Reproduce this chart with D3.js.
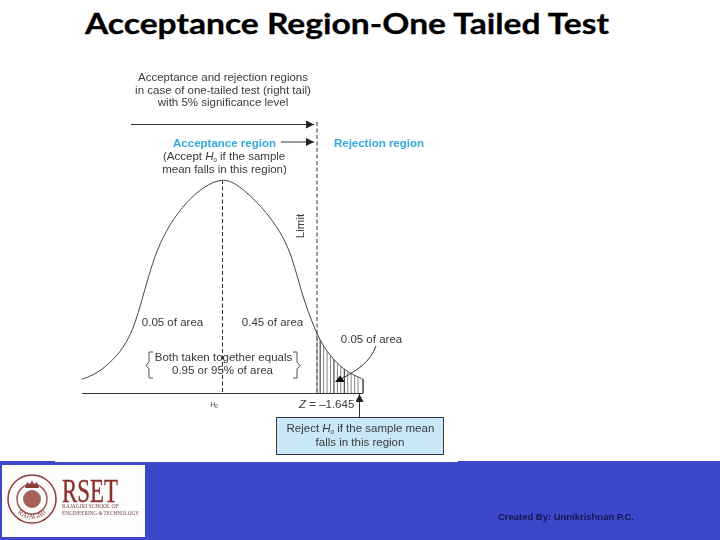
<!DOCTYPE html>
<html><head><meta charset="utf-8">
<script src="https://cdn.jsdelivr.net/npm/d3@7/dist/d3.min.js"></script>
<style>html,body{margin:0;padding:0;background:#fff}svg{display:block}</style>
</head><body><svg id="c" width="720" height="540"></svg>
<script>
// Standardised deviation from the mean, and curve height relative to the peak
const curveZ = [-2.45,-2.45,-2.19,-1.90,-1.67,-1.52,-1.41,-1.29,-1.145,-0.914,-0.623,-0.334,0,0.247,0.536,0.827,1.058,1.205,1.319,1.436,1.645,1.814,2.045,2.277,2.45,2.45];
const curveH = [0.064,0.064,0.089,0.154,0.232,0.326,0.427,0.543,0.668,0.793,0.894,0.964,1.005,0.977,0.910,0.824,0.730,0.637,0.528,0.419,0.271,0.193,0.123,0.084,0.064,0.064];
const hatchZ = [1.645,1.70,1.76,1.82,1.88,1.94,2.00,2.06,2.12,2.18,2.24,2.30,2.36,2.44];
const heavyHatch = [1.70,1.94,2.12];
const titleText = "Acceptance Region-One Tailed Test";
const captionLines = ["Acceptance and rejection regions","in case of one-tailed test (right tail)","with 5% significance level"];
const acceptLines = ["mean falls in this region)"];
const togetherLines = ["Both taken together equals","0.95 or 95% of area"];
const creditText = "Created By: Unnikrishnan P.C.";

const x = d3.scaleLinear().domain([0,1.645]).range([222.5,317]);
const y = d3.scaleLinear().domain([0,1]).range([393,179]);
const svg = d3.select("#c");
const defs = svg.append("defs");
defs.append("filter").attr("id","soft").attr("x","-5%").attr("y","-5%").attr("width","110%").attr("height","110%")
  .append("feGaussianBlur").attr("stdDeviation",0.4);
defs.append("filter").attr("id","soft2").append("feGaussianBlur").attr("stdDeviation",0.5);
const mk = defs.append("marker").attr("id","ah").attr("viewBox","0 0 10 10").attr("refX",10).attr("refY",5)
  .attr("markerWidth",8).attr("markerHeight",8).attr("markerUnits","userSpaceOnUse").attr("orient","auto");
mk.append("path").attr("d","M0,0L10,5L0,10Z").attr("fill","#222");

const pts = curveZ.map((z,i)=>[z,curveH[i]]);
const line = d3.line().x(d=>x(d[0])).y(d=>y(d[1])).curve(d3.curveBasis);
const area = d3.area().x(d=>x(d[0])).y0(y(0)).y1(d=>y(d[1])).curve(d3.curveBasis);
defs.append("clipPath").attr("id","under").append("path").attr("d",area(pts));

// Blue footer
svg.append("rect").attr("x",0).attr("y",461).attr("width",720).attr("height",79).attr("fill","#3d47c9");
svg.append("rect").attr("x",55).attr("y",459).attr("width",403).attr("height",3).attr("fill","#fff");

// Title
svg.append("text").attr("x",85).attr("y",34).attr("font-family","Lato").attr("font-weight",700)
  .attr("font-size",29).attr("textLength",524).attr("lengthAdjust","spacingAndGlyphs").attr("fill","#000")
  .attr("stroke","#000").attr("stroke-width",0.3).text(titleText);

const g = svg.append("g").attr("filter","url(#soft)");
const T = (s,px,py,o={})=>g.append("text").attr("x",px).attr("y",py).attr("text-anchor",o.a||"middle")
  .attr("font-family","Liberation Sans").attr("font-size",o.s||11.5).attr("fill",o.c||"#3a3a3a").attr("font-weight",o.w||400).text(s);

captionLines.forEach((s,i)=>T(s,223,81+i*12.7));

const L=(x1,y1,x2,y2,o={})=>g.append("line").attr("x1",x1).attr("y1",y1).attr("x2",x2).attr("y2",y2)
  .attr("stroke",o.c||"#333").attr("stroke-width",o.w||1).attr("stroke-dasharray",o.d||null).attr("marker-end",o.m?"url(#ah)":null);
L(131,124.5,314,124.5,{m:1});
L(281,142,314,142,{m:1});
L(x(1.645),122,x(1.645),393,{d:"4,2.5"});
L(x(0),180,x(0),393,{d:"4,2.5"});

T("Acceptance region",224.5,147,{c:"#35a9dc",w:700});
T("Rejection region",379,147,{c:"#35a9dc",w:700});
const t2=T("(Accept ",163,160,{a:"start"});
t2.append("tspan").attr("font-style","italic").text("H");
t2.append("tspan").attr("font-size",6).attr("dy",2).text("0");
t2.append("tspan").attr("dy",-2).text(" if the sample");
acceptLines.forEach(s=>T(s,224.5,173));
const lim=T("Limit",0,0);lim.attr("transform","translate(303.5,226) rotate(-90)");

// Tail hatching
const h = g.append("g").attr("clip-path","url(#under)");
hatchZ.forEach(z=>h.append("line").attr("x1",x(z)).attr("x2",x(z)).attr("y1",y(0)).attr("y2",y(0.35))
  .attr("stroke",heavyHatch.includes(z)?"#222":"#666").attr("stroke-width",heavyHatch.includes(z)?1:0.8));

// Curve and baseline
g.append("path").attr("d",line(pts)).attr("fill","none").attr("stroke","#444").attr("stroke-width",1);
L(82,393.5,363,393.5,{c:"#333"});
L(x(2.45),y(0),x(2.45),y(0.064),{c:"#333"});

T("0.05 of area",172.5,326);
T("0.45 of area",272.5,326);
T("0.05 of area",371.5,343);
togetherLines.forEach((s,i)=>T(s,i?222.5:223.5,361+i*13));
g.append("path").attr("d","M153,352H149V362L146,365.5L149,369V378H153").attr("fill","none").attr("stroke","#555");
g.append("path").attr("d","M293,352H297V362L300,365.5L297,369V378H293").attr("fill","none").attr("stroke","#555");

// callout from the tail label
g.append("path").attr("d","M376,346C370,362 358,370 341,379").attr("fill","none").attr("stroke","#333");
g.append("path").attr("d","M340,375.5L335,382H345Z").attr("fill","#111");

const h0=T("H",214,407,{s:6.5});h0.attr("font-style","italic");h0.append("tspan").attr("font-size",4.5).attr("dy",1).text("0");
const z=T("Z",299,408);z.attr("text-anchor","start").attr("font-style","italic");
z.append("tspan").attr("font-style","normal").text(" = –1.645");

// Reject box
g.append("rect").attr("x",276.5).attr("y",417.5).attr("width",167).attr("height",37).attr("fill","#c9e8f7").attr("stroke","#333").attr("stroke-width",1);
L(359.5,417,359.5,394,{m:1});
const r=T("Reject ",286.5,432,{a:"start"});
r.append("tspan").attr("font-style","italic").text("H");
r.append("tspan").attr("font-size",6).attr("dy",2).text("0");
r.append("tspan").attr("dy",-2).text(" if the sample mean");
T("falls in this region",360,446);

// Logo
svg.append("rect").attr("x",2).attr("y",465).attr("width",143).attr("height",72).attr("fill","#fdfdfd");
const lg = svg.append("g").attr("filter","url(#soft2)");
lg.append("circle").attr("cx",32).attr("cy",499).attr("r",24).attr("fill","none").attr("stroke","#8e3b3a").attr("stroke-width",1.5);
lg.append("circle").attr("cx",32).attr("cy",499).attr("r",15).attr("fill","none").attr("stroke","#a05a55").attr("stroke-width",1.5);
lg.append("circle").attr("cx",32).attr("cy",499).attr("r",9).attr("fill","#a5605a");
lg.append("path").attr("d","M25,488L27,482L30,485L32,480L34,485L37,482L39,488Z").attr("fill","#8e3b3a");
defs.append("path").attr("id","arc").attr("d","M13,505A20,20 0 0 0 51,505");
lg.append("text").attr("font-family","Liberation Serif").attr("font-size",7).attr("fill","#8e3b3a")
  .append("textPath").attr("href","#arc").attr("startOffset","50%").attr("text-anchor","middle").text("RAJAGIRI");
lg.append("text").attr("x",62).attr("y",502).attr("font-family","Liberation Serif").attr("font-size",33).attr("fill","#8c2f2c")
  .attr("stroke","#8c2f2c").attr("stroke-width",0.4).attr("textLength",56).attr("lengthAdjust","spacingAndGlyphs").text("RSET");
lg.append("text").attr("x",62).attr("y",507.5).attr("font-family","Liberation Serif").attr("font-size",5.5).attr("fill","#7a4a48").text("RAJAGIRI SCHOOL OF");
lg.append("text").attr("x",62).attr("y",514.5).attr("font-family","Liberation Serif").attr("font-size",5.5).attr("fill","#7a4a48")
  .attr("textLength",77).attr("lengthAdjust","spacingAndGlyphs").text("ENGINEERING & TECHNOLOGY");

// Credit
svg.append("text").attr("x",498).attr("y",520).attr("font-family","Liberation Sans").attr("font-weight",700).attr("font-size",9.5)
  .attr("fill","#14164f").attr("filter","url(#soft)").attr("textLength",136).attr("lengthAdjust","spacingAndGlyphs").text(creditText);
</script></body></html>
